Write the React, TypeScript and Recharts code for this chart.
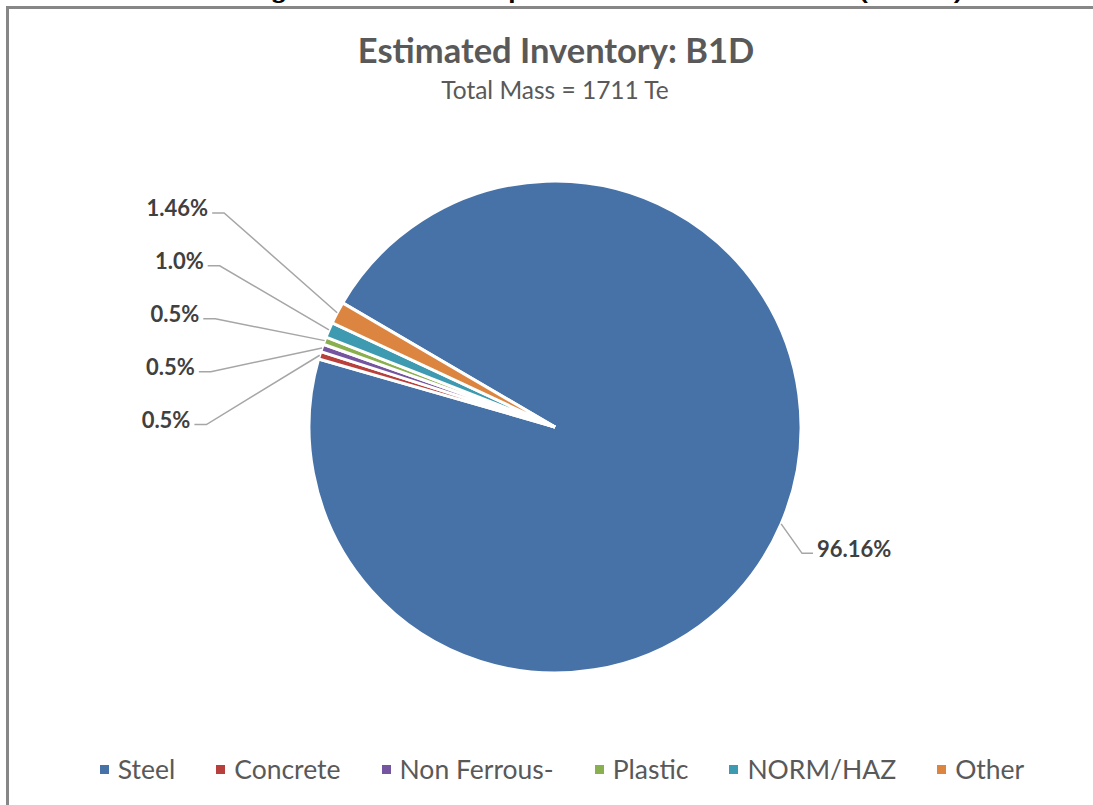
import React from 'react';
import { PieChart, Pie, Cell, Legend } from 'recharts';

const categories = ['Steel', 'Concrete', 'Non Ferrous-', 'Plastic', 'NORM/HAZ', 'Other'];
const shares = [96.16, 0.5, 0.5, 0.5, 1.0, 1.46];
const shareLabels = ['96.16%', '0.5%', '0.5%', '0.5%', '1.0%', '1.46%'];
const colors = ['#4672A8', '#B8403C', '#7655A0', '#8AAF4E', '#3E9AB0', '#DC8540'];

const chartTitle = 'Estimated Inventory: B1D';
const chartSubtitle = 'Total Mass = 1711 Te';
const captionText = 'Figure 5-10: B1D Graph of Estimated Inventories (tonnes)';

const data = categories.map((name, i) => ({ name, value: shares[i], label: shareLabels[i] }));

const RAD = Math.PI / 180;
const FONT = 'Lato, "Open Sans", sans-serif';

const renderLabel = (props: any) => {
  const { cx, cy, midAngle, outerRadius, percent, index } = props;
  const R = outerRadius;
  const ax = cx + R * Math.cos(-midAngle * RAD);
  const ay = cy + R * Math.sin(-midAngle * RAD);
  const text = data[index].label;
  if (percent > 0.5) {
    const ex = ax + 0.085 * R;
    const ey = ay + 0.12 * R;
    const hx = ex + 11;
    return (
      <g key={`lbl-${index}`}>
        <polyline points={`${ax},${ay} ${ex},${ey} ${hx},${ey}`} fill="none" stroke="#A6A6A6" strokeWidth={1.5} />
        <text x={hx + 4} y={ey - 5} dominantBaseline="central" textAnchor="start" fill="#404040"
          fontFamily={FONT} fontWeight={700} fontSize={22}>{text}</text>
      </g>
    );
  }
  const rank = data.length - 1 - index;
  const ex = cx - 1.345 * R - rank * 0.018 * R;
  const ey = cy - 0.87 * R + rank * 0.215 * R;
  const hx = ex - 12;
  return (
    <g key={`lbl-${index}`}>
      <polyline points={`${ax},${ay} ${ex},${ey} ${hx},${ey}`} fill="none" stroke="#A6A6A6" strokeWidth={1.5} />
      <text x={hx - 4} y={ey - 5} dominantBaseline="central" textAnchor="end" fill="#404040"
        fontFamily={FONT} fontWeight={700} fontSize={22}>{text}</text>
    </g>
  );
};

const renderLegend = () => (
  <div style={{ display: 'flex', justifyContent: 'center', alignItems: 'center', paddingLeft: 31 }}>
    {categories.map((c, i) => (
      <div key={c} style={{ display: 'flex', alignItems: 'center', marginRight: i < categories.length - 1 ? 41 : 0 }}>
        <span style={{ display: 'inline-block', width: 9, height: 9, background: colors[i], marginRight: 9 }} />
        <span style={{ fontFamily: FONT, fontSize: 26.5, color: '#595959', lineHeight: '30px', whiteSpace: 'nowrap' }}>{c}</span>
      </div>
    ))}
  </div>
);

export default function App() {
  return (
    <div style={{ position: 'absolute', left: 0, top: 0, width: 1093, height: 805, overflow: 'hidden', background: '#fff' }}>
      <div style={{ position: 'absolute', left: 6, top: 6, width: 1200, height: 900, border: '3px solid #878787' }} />
      <svg width={1093} height={120} style={{ position: 'absolute', left: 0, top: 0 }}>
        <text x={605} y={-1} textAnchor="middle" fontFamily='"Liberation Sans", Arial, sans-serif' fontWeight={700}
          fontSize={20} fill="#000" textLength={715} lengthAdjust="spacingAndGlyphs">{captionText}</text>
        <text x={556} y={63} textAnchor="middle" fontFamily={FONT} fontWeight={700} fontSize={34.5} fill="#595959">{chartTitle}</text>
        <text x={555} y={99} textAnchor="middle" fontFamily={FONT} fontSize={24.5} fill="#595959">{chartSubtitle}</text>
      </svg>
      <div style={{ position: 'absolute', left: 0, top: 0 }}>
        <PieChart width={1093} height={805} margin={{ top: 0, right: 0, bottom: 0, left: 0 }}>
          <Pie
            data={data}
            dataKey="value"
            nameKey="name"
            cx={555}
            cy={427}
            outerRadius={246}
            startAngle={149.7}
            endAngle={149.7 - 360}
            stroke="#FFFFFF"
            strokeWidth={3}
            label={renderLabel}
            labelLine={false}
            isAnimationActive={false}
          >
            {data.map((d, i) => (
              <Cell key={d.name} fill={colors[i]} />
            ))}
          </Pie>
          <Legend content={renderLegend} wrapperStyle={{ position: 'absolute', top: 754, left: 0, width: 1093 }} />
        </PieChart>
      </div>
    </div>
  );
}
